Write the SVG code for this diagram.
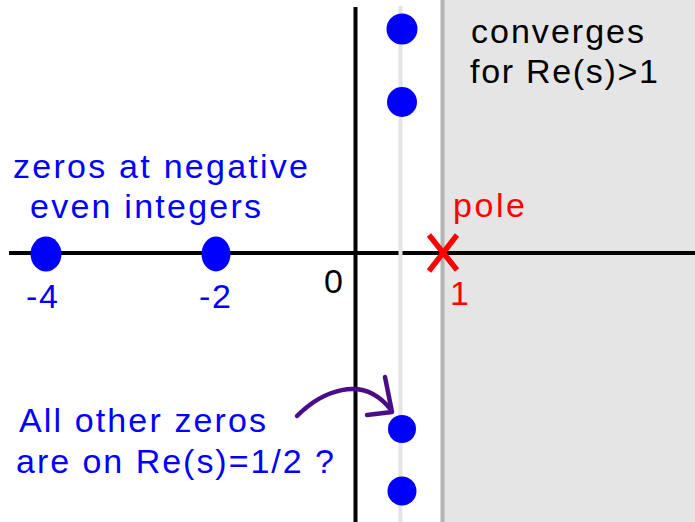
<svg xmlns="http://www.w3.org/2000/svg" width="695" height="522" viewBox="0 0 695 522">
<style>
.t{font-family:"Liberation Sans",Arial,sans-serif;font-size:34px}
.blue{fill:#0000ff}
.dot{fill:#0000ff}
</style>
<rect width="695" height="522" fill="#ffffff"/>
<g id="region">
<rect x="442" y="0" width="253" height="522" fill="#e5e5e5"/>
<line x1="442.5" y1="0" x2="442.5" y2="522" stroke="#b3b3b3" stroke-width="4"/>
</g>
<g id="axes">
<line x1="355.5" y1="7" x2="355.5" y2="522" stroke="#000" stroke-width="4"/>
<line x1="9" y1="253" x2="695" y2="253" stroke="#000" stroke-width="4"/>
</g>
<g id="critical-line">
<line x1="400.5" y1="6" x2="400.5" y2="522" stroke="#e4e4e4" stroke-width="4"/>
</g>
<g id="trivial-zeros">
<ellipse class="dot" cx="46" cy="254" rx="15.5" ry="17.5"/>
<ellipse class="dot" cx="216" cy="254" rx="14.5" ry="17.5"/>
</g>
<g id="nontrivial-zeros">
<circle class="dot" cx="402" cy="29" r="15.5"/>
<circle class="dot" cx="402" cy="102" r="15"/>
<circle class="dot" cx="402" cy="429" r="14"/>
<circle class="dot" cx="402" cy="491" r="14.5"/>
</g>
<g id="pole">
<path d="M429,235 L457,270 M457,235 L429,271" stroke="#ff0000" stroke-width="5.5" fill="none"/>
<text class="t" x="453" y="217" fill="#ff0000" textLength="72" lengthAdjust="spacing">pole</text>
<text class="t" x="450" y="305" fill="#ff0000">1</text>
</g>
<g id="labels">
<text class="t" x="471" y="43" fill="#000" textLength="173" lengthAdjust="spacing">converges</text>
<text class="t" x="470" y="83" fill="#000" textLength="188" lengthAdjust="spacing">for Re(s)&gt;1</text>
<text class="t" x="324" y="293" fill="#000">0</text>
<text class="t blue" x="26" y="308" textLength="32" lengthAdjust="spacing">-4</text>
<text class="t blue" x="199" y="308" textLength="32" lengthAdjust="spacing">-2</text>
<text class="t blue" x="13" y="178" textLength="295" lengthAdjust="spacing">zeros at negative</text>
<text class="t blue" x="30" y="218" textLength="231" lengthAdjust="spacing">even integers</text>
<text class="t blue" x="19" y="432" textLength="247" lengthAdjust="spacing">All other zeros</text>
<text class="t blue" x="16" y="473" textLength="318" lengthAdjust="spacing">are on Re(s)=1/2 ?</text>
</g>
<g id="connectors">
<path d="M297,416 C320,393 362,372 391,410" stroke="#4b0c87" stroke-width="4.5" fill="none" stroke-linecap="round"/>
<path d="M385,377 L392,412 L367,415" stroke="#4b0c87" stroke-width="4.5" fill="none" stroke-linecap="round" stroke-linejoin="round"/>
</g>
</svg>
